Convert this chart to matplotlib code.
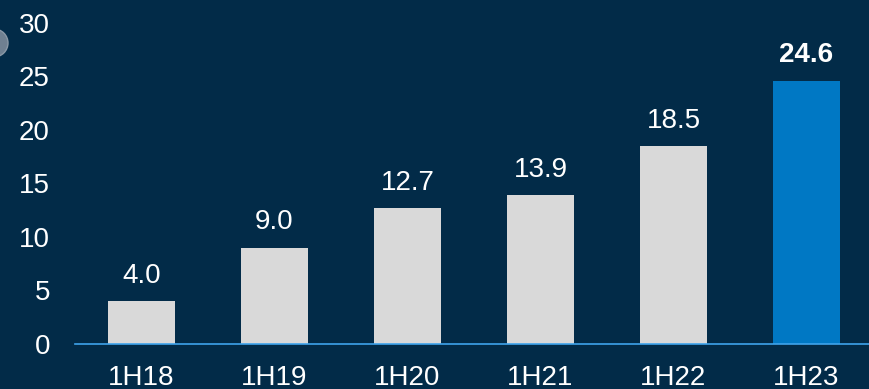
import matplotlib.pyplot as plt
from matplotlib.patches import Ellipse

# Data
periods = ['1H18', '1H19', '1H20', '1H21', '1H22', '1H23']
values = [4.0, 9.0, 12.7, 13.9, 18.5, 24.6]
y_ticks = [0, 5, 10, 15, 20, 25, 30]

bg = '#022b48'
bar_colors = ['#d9d9d9'] * 5 + ['#0078c4']

plt.rcParams['font.family'] = ['Liberation Sans', 'DejaVu Sans']

fig = plt.figure(figsize=(8.69, 3.89), dpi=100, facecolor=bg)
ax = fig.add_axes([75 / 869, 45 / 389, 794 / 869, 321 / 389], facecolor=bg)

x = range(len(periods))
bars = ax.bar(x, values, width=0.5, color=bar_colors, zorder=2)

for i, (b, v) in enumerate(zip(bars, values)):
    last = i == len(values) - 1
    ax.annotate(f'{v:.1f}', (b.get_x() + b.get_width() / 2, v),
                xytext=(0, 9), textcoords='offset points',
                ha='center', va='bottom', color='white', fontsize=20,
                fontweight='bold' if last else 'normal')

ax.set_xlim(-0.5, 5.47)
ax.set_ylim(0, 30)
ax.set_xticks(list(x))
ax.set_xticklabels(periods)
ax.set_yticks(y_ticks)
ax.tick_params(axis='both', length=0, colors='white', labelsize=20)
ax.tick_params(axis='y', pad=18)
ax.tick_params(axis='x', pad=15)

for s in ['top', 'right', 'left']:
    ax.spines[s].set_visible(False)
ax.spines['bottom'].set_color('#3fa4ec')
ax.spines['bottom'].set_linewidth(1.2)

# small grey decoration at the top left edge
fig.patches.append(Ellipse((-6 / 869, 1 - 43 / 389), 28 / 869, 28 / 389,
                           transform=fig.transFigure, facecolor='#6f8091',
                           edgecolor='#8a98a6', linewidth=1))

fig.savefig('out.png', dpi=100, facecolor=bg)
